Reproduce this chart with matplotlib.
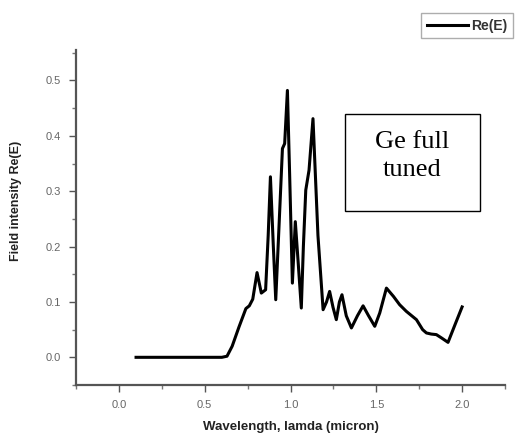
import matplotlib.pyplot as plt
import matplotlib.patches as patches
from matplotlib.ticker import MultipleLocator

# wavelength (micron) and field intensity
wavelength = [0.1, 0.2, 0.3, 0.4, 0.5, 0.6, 0.63, 0.66, 0.70, 0.74, 0.76, 0.78,
              0.805, 0.83, 0.855, 0.87, 0.883, 0.90, 0.914, 0.935, 0.953, 0.966,
              0.982, 0.995, 1.011, 1.028, 1.045, 1.063, 1.075, 1.089, 1.108, 1.131,
              1.16, 1.19, 1.21, 1.228, 1.248, 1.267, 1.285, 1.30, 1.325, 1.355,
              1.39, 1.423, 1.455, 1.491, 1.52, 1.559, 1.60, 1.636, 1.675, 1.734,
              1.77, 1.792, 1.82, 1.85, 1.88, 1.918, 1.96, 2.0]
re_e = [0.0, 0.0, 0.0, 0.0, 0.0, 0.0, 0.002, 0.02, 0.055, 0.088, 0.093, 0.105,
        0.153, 0.116, 0.122, 0.22, 0.326, 0.2, 0.104, 0.25, 0.377, 0.386,
        0.482, 0.33, 0.134, 0.245, 0.17, 0.089, 0.2, 0.302, 0.338, 0.431,
        0.22, 0.086, 0.1, 0.119, 0.09, 0.068, 0.1, 0.113, 0.075, 0.053,
        0.075, 0.093, 0.075, 0.056, 0.08, 0.125, 0.11, 0.095, 0.083, 0.068,
        0.05, 0.044, 0.042, 0.041, 0.035, 0.027, 0.06, 0.091]

xticks = [0.0, 0.5, 1.0, 1.5, 2.0]
yticks = [0.0, 0.1, 0.2, 0.3, 0.4, 0.5]

plt.rcParams['font.family'] = ['Liberation Sans', 'DejaVu Sans']

W, H = 517, 437
fig = plt.figure(figsize=(W / 100, H / 100), dpi=100)
ax = fig.add_axes([76 / W, 1 - 385 / H, (505 - 76) / W, (385 - 50) / H])

ax.plot(wavelength, re_e, color='black', lw=2.2, label='Re(E)')

ax.set_xlim(-0.25, 2.25)
ax.set_ylim(-0.05, 0.555)
ax.set_xticks(xticks)
ax.set_yticks(yticks)
ax.set_xticklabels([f'{v:.1f}' for v in xticks])
ax.set_yticklabels([f'{v:.1f}' for v in yticks])
ax.xaxis.set_minor_locator(MultipleLocator(0.25))
ax.yaxis.set_minor_locator(MultipleLocator(0.05))

for s in ['top', 'right']:
    ax.spines[s].set_visible(False)
for s in ['left', 'bottom']:
    ax.spines[s].set_color('#555555')
    ax.spines[s].set_linewidth(1.6)

ax.tick_params(which='major', direction='out', length=5, width=1, color='#555555',
               labelsize=8, labelcolor='#666666', pad=6)
ax.tick_params(which='minor', direction='out', length=3, width=1, color='#777777')

ax.set_xlabel('Wavelength, lamda (micron)', fontsize=9.5, fontweight='bold',
              color='#222222', labelpad=8)
ax.set_ylabel('Field intensity Re(E)', fontsize=9, fontweight='bold',
              color='#222222')
ax.yaxis.set_label_coords(-0.125, 0.55)

fig.legend(loc='upper right', bbox_to_anchor=(513 / W, 1 - 13 / H),
           prop={'weight': 'bold', 'size': 10}, handlelength=3.0,
           fancybox=False, edgecolor='#999999', borderaxespad=0,
           borderpad=0.4, handletextpad=0.2, labelcolor='#333333')

# annotation box
rect = patches.Rectangle((345 / W, 1 - 211 / H), (480 - 345) / W, (211 - 114) / H,
                         transform=fig.transFigure, fill=False,
                         edgecolor='black', lw=1)
fig.patches.append(rect)
fig.text(412.5 / W, 1 - 156 / H, 'Ge full\ntuned', ha='center', va='center',
         fontsize=19, family='Liberation Serif', color='black', linespacing=1.4)

fig.savefig('out.png', dpi=100)
